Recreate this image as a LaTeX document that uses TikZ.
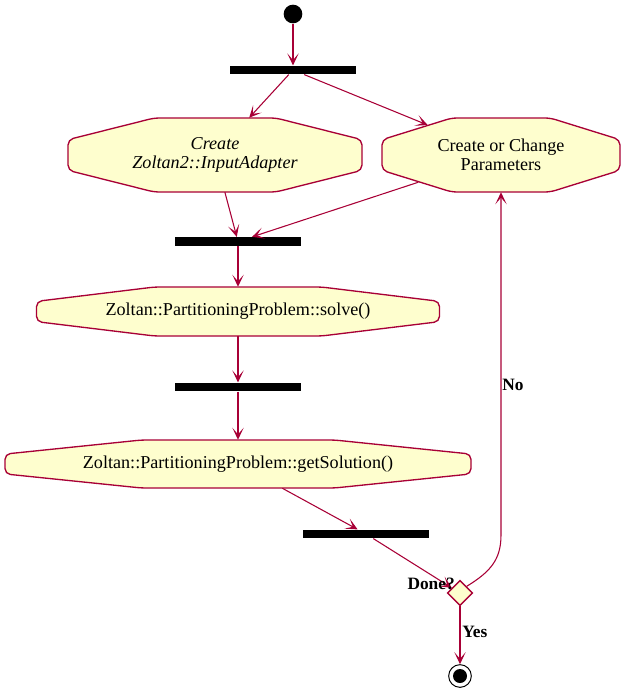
\documentclass[tikz,border=0pt]{standalone}
\usepackage{fontspec}
\setmainfont{Liberation Serif}
\usetikzlibrary{shapes.geometric,arrows.meta}
\definecolor{umlred}{RGB}{168,0,54}
\definecolor{umlfill}{RGB}{254,254,206}
\newcommand\actoutline[4]{%
  \filldraw[outline] (#1,{#2-#4}) -- ({#1+.414*#3},{#2-#4}) -- ({#1+#3},{#2-.414*#4}) -- ({#1+#3},{#2+.414*#4})
    -- ({#1+.414*#3},{#2+#4}) -- ({#1-.414*#3},{#2+#4}) -- ({#1-#3},{#2+.414*#4}) -- ({#1-#3},{#2-.414*#4})
    -- ({#1-.414*#3},{#2-#4}) -- cycle;}
\begin{document}
\begin{tikzpicture}[x=.75pt,y=-.75pt,
  >={Stealth[length=9pt,width=8.5pt,inset=5pt]},
  flow/.style={->,draw=umlred,line width=.8pt},
  outline/.style={draw=umlred,fill=umlfill,line width=1pt,rounded corners=4pt},
  activity/.style={inner sep=0pt,align=center,font=\fontsize{13.6}{14.3}\selectfont},
  bar/.style={fill=black,inner sep=0pt,minimum width=94.5pt,minimum height=6.5pt},
  decision/.style={diamond,draw=umlred,fill=umlfill,line width=1pt,inner sep=0pt,minimum size=19pt},
  guard/.style={inner sep=0pt,font=\bfseries\fontsize{13}{15}\selectfont}]
\useasboundingbox (0,0) rectangle (625,693);
\actoutline{215}{155}{147}{37}
\actoutline{501}{155}{119}{37}
\actoutline{238}{311.5}{201.5}{24.5}
\actoutline{238}{464}{233}{24}
\node[circle,fill=black,inner sep=0pt,minimum size=14pt] (start) at (293,14) {};
\node[bar] (fork) at (293,70) {};
\node[activity,minimum width=220.5pt,minimum height=55.5pt,font=\fontsize{13.6}{14.3}\selectfont\itshape] (adapter) at (215,155) {Create\\Zoltan2::InputAdapter};
\node[activity,minimum width=178.5pt,minimum height=55.5pt] (params) at (501,155) {Create or Change\\Parameters};
\node[bar] (join) at (238,241.5) {};
\node[activity,minimum width=302pt,minimum height=36.75pt] (solve) at (238,311.5) {Zoltan::PartitioningProblem::solve()};
\node[bar] (sync) at (238,387) {};
\node[activity,minimum width=349.5pt,minimum height=36pt] (solution) at (238,464) {Zoltan::PartitioningProblem::getSolution()};
\node[bar] (merge) at (366,534) {};
\node[decision] (done) at (460,593) {};
\node[circle,draw=black,fill=white,line width=.75pt,inner sep=0pt,minimum size=17pt] (stop) at (460,676) {};
\fill[black] (stop.center) circle[radius=5.25pt];
\draw[flow] (start) -- (fork);
\draw[flow] (fork) -- (adapter);
\draw[flow,shorten >=-14.5pt] (fork) -- (params);
\draw[flow] (adapter) -- (join);
\draw[flow,shorten <=-24pt] (params) -- (join);
\draw[flow] (join) -- (solve);
\draw[flow] (solve) -- (sync);
\draw[flow] (sync) -- (solution);
\draw[flow] (solution) -- (merge);
\draw[flow] (merge) -- (done);
\draw[flow] (done.north east) .. controls (490,572) and (501,560) .. (501,535) -- (params.south);
\draw[flow] (done) -- (stop);
\node[guard,anchor=base east] at (455,589) {Done?};
\node[guard,anchor=base west] at (502,390) {No};
\node[guard,anchor=base west] at (462,637) {Yes};
\end{tikzpicture}
\end{document}
